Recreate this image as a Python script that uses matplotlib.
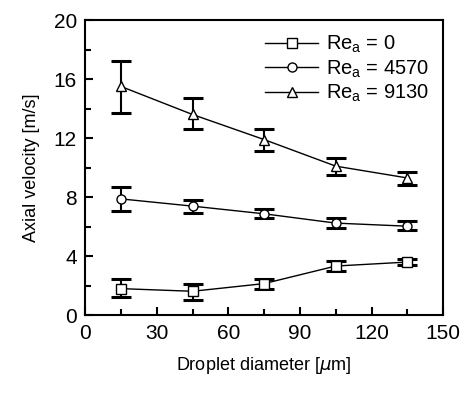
import matplotlib
matplotlib.use("Agg")
import matplotlib.pyplot as plt
from matplotlib.ticker import MultipleLocator

plt.rcParams['font.family'] = ['Liberation Sans', 'DejaVu Sans']

diameter = [15, 45, 75, 105, 135]

v_re0 = [1.8, 1.62, 2.14, 3.33, 3.6]
lo_re0 = [1.2, 1.06, 1.8, 3.0, 3.42]
hi_re0 = [2.43, 2.1, 2.48, 3.65, 3.78]

v_re4570 = [7.88, 7.39, 6.87, 6.24, 6.03]
lo_re4570 = [7.03, 6.93, 6.58, 5.93, 5.74]
hi_re4570 = [8.67, 7.82, 7.2, 6.58, 6.37]

v_re9130 = [15.5, 13.6, 11.9, 10.1, 9.3]
lo_re9130 = [13.7, 12.6, 11.1, 9.5, 8.85]
hi_re9130 = [17.2, 14.7, 12.6, 10.65, 9.73]

series = [
    (v_re0, lo_re0, hi_re0, 's', r'Re$_\mathregular{a}$ = 0'),
    (v_re4570, lo_re4570, hi_re4570, 'o', r'Re$_\mathregular{a}$ = 4570'),
    (v_re9130, lo_re9130, hi_re9130, '^', r'Re$_\mathregular{a}$ = 9130'),
]

fig = plt.figure(figsize=(4.65, 3.93), dpi=100)
ax = fig.add_axes([0.183, 0.198, 0.770, 0.751])

for v, lo, hi, m, lab in series:
    err = [[a - b for a, b in zip(v, lo)], [b - a for a, b in zip(v, hi)]]
    ax.errorbar(diameter, v, yerr=err, fmt='none', ecolor='black',
                elinewidth=1.5, capsize=7, capthick=2.2, zorder=2)
    ax.plot(diameter, v, color='black', lw=1.0, marker=m, ms=6.5,
            mfc='white', mec='black', mew=1.0, label=lab, zorder=3)

ax.set_xlim(0, 150)
ax.set_ylim(0, 20)
ax.xaxis.set_major_locator(MultipleLocator(30))
ax.xaxis.set_minor_locator(MultipleLocator(15))
ax.yaxis.set_major_locator(MultipleLocator(4))
ax.yaxis.set_minor_locator(MultipleLocator(2))
ax.tick_params(which='both', direction='in', top=False, right=False,
               labelsize=15, width=1.5)
ax.tick_params(which='major', length=6, pad=6)
ax.tick_params(which='minor', length=4)
for s in ax.spines.values():
    s.set_linewidth(1.5)

ax.set_xlabel(r'Droplet diameter [$\mu$m]', fontsize=13, labelpad=9)
ax.set_ylabel('Axial velocity [m/s]', fontsize=13, labelpad=10)

ax.legend(loc='upper right', frameon=False, fontsize=14.5, handlelength=2.6,
          handletextpad=0.4, labelspacing=0.15, borderaxespad=0.3)

fig.savefig('out.png', dpi=100)
